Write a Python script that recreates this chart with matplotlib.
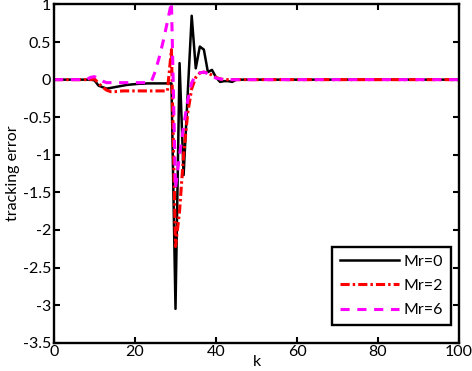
import numpy as np
import matplotlib
matplotlib.use('Agg')
import matplotlib.pyplot as plt

plt.rcParams['font.family'] = ['Lato', 'DejaVu Sans']

# tracking error, k = 0..45 (zero afterwards)
k = np.arange(0, 101)
tail = [0.0] * 55

err_mr0 = [0, 0, 0, 0, 0, 0, 0, 0, 0, 0,
           -0.01, -0.08, -0.10, -0.12, -0.11, -0.10, -0.09, -0.08, -0.07, -0.065,
           -0.06, -0.055, -0.055, -0.05, -0.05, -0.05, -0.05, -0.05, -0.05, -0.05,
           -3.05, 0.22, -1.27, -0.20, 0.85, 0.15, 0.44, 0.40, 0.10, 0.13,
           0.03, -0.03, -0.02, -0.02, -0.03, 0.0] + tail

err_mr2 = [0, 0, 0, 0, 0, 0, 0, 0, 0, 0,
           0.01, -0.05, -0.10, -0.14, -0.16, -0.16, -0.155, -0.15, -0.15, -0.15,
           -0.15, -0.15, -0.15, -0.15, -0.15, -0.15, -0.15, -0.15, -0.15, 0.40,
           -2.22, -1.75, -1.00, -0.45, -0.12, 0.03, 0.09, 0.10, 0.09, 0.06,
           0.03, 0.01, 0.0, 0.0, 0.0, 0.0] + tail

err_mr6 = [0, 0, 0, 0, 0, 0, 0, 0, 0, 0.03,
           0.04, 0.01, -0.02, -0.04, -0.04, -0.04, -0.04, -0.04, -0.04, -0.04,
           -0.04, -0.04, -0.04, -0.04, -0.03, 0.11, 0.30, 0.52, 0.77, 1.03,
           -1.45, -1.00, -0.62, -0.28, -0.04, 0.06, 0.09, 0.10, 0.08, 0.05,
           0.02, 0.01, 0.0, 0.0, 0.0, 0.0] + tail

labels = ['Mr=0', 'Mr=2', 'Mr=6']

fig = plt.figure(figsize=(4.72, 3.71), dpi=100)
ax = fig.add_axes([0.1144, 0.0763, 0.8581, 0.9116])

ax.plot(k, err_mr0, color='black', lw=1.8, label=labels[0])
ax.plot(k, err_mr2, color='red', lw=2.2, dashes=(3.0, 1.0, 0.8, 1.0), label=labels[1])
ax.plot(k, err_mr6, color='magenta', lw=2.2, dashes=(3.0, 2.5), label=labels[2])

ax.set_xlim(0, 100)
ax.set_ylim(-3.5, 1)
ax.set_xticks(np.arange(0, 101, 20))
ax.set_yticks(np.arange(-3.5, 1.01, 0.5))
ax.set_yticklabels(['-3.5', '-3', '-2.5', '-2', '-1.5', '-1', '-0.5', '0', '0.5', '1'])
ax.tick_params(direction='in', top=True, right=True, length=4, width=1.5,
               labelsize=11.5, pad=2)
for s in ax.spines.values():
    s.set_linewidth(1.7)

ax.set_xlabel('k', fontsize=11.5)
ax.xaxis.set_label_coords(0.5, -0.035)
ax.set_ylabel('tracking error', fontsize=11.5, labelpad=2)

leg = ax.legend(loc='lower right', bbox_to_anchor=(0.98, 0.052), borderaxespad=0,
                fancybox=False, edgecolor='black', framealpha=1, fontsize=11.5,
                handlelength=3.7, labelspacing=0.62, handletextpad=0.3,
                borderpad=0.5)
leg.get_frame().set_linewidth(1.7)

plt.savefig('out.png', dpi=100)
